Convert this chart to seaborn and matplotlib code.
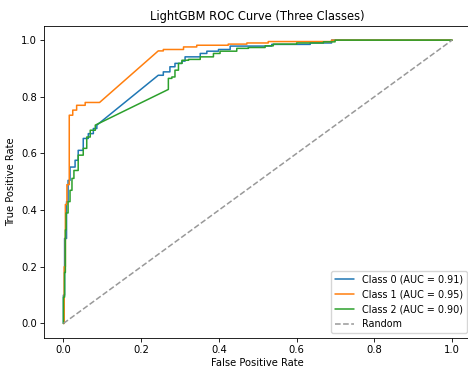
import matplotlib
matplotlib.use('Agg')
import matplotlib.pyplot as plt
import seaborn as sns

# ROC points (fpr, tpr)
fpr_0 = [0.0, 0.0, 0.003, 0.003, 0.008, 0.008, 0.012, 0.012, 0.017, 0.017, 0.030, 0.030,
         0.038, 0.038, 0.051, 0.051, 0.064, 0.064, 0.077, 0.077, 0.086, 0.086,
         0.244, 0.244, 0.257, 0.257, 0.274, 0.274, 0.287, 0.287, 0.305, 0.305,
         0.313, 0.313, 0.352, 0.352, 0.369, 0.369, 0.399, 0.399, 0.429, 0.429,
         0.536, 0.536, 0.635, 0.635, 0.690, 0.690, 1.0]
tpr_0 = [0.0, 0.10, 0.10, 0.30, 0.30, 0.43, 0.43, 0.505, 0.505, 0.552, 0.552, 0.576,
         0.576, 0.611, 0.611, 0.653, 0.653, 0.670, 0.670, 0.688, 0.688, 0.700,
         0.876, 0.876, 0.876, 0.888, 0.888, 0.906, 0.906, 0.918, 0.918, 0.926,
         0.926, 0.941, 0.941, 0.953, 0.953, 0.961, 0.961, 0.967, 0.967, 0.979,
         0.979, 0.985, 0.985, 0.990, 0.990, 1.0, 1.0]

fpr_1 = [0.0, 0.002, 0.002, 0.005, 0.005, 0.009, 0.009, 0.015, 0.015, 0.024, 0.024,
         0.034, 0.034, 0.056, 0.056, 0.093, 0.244, 0.257, 0.257, 0.309, 0.309,
         0.343, 0.343, 0.424, 0.424, 0.472, 0.472, 0.527, 0.527, 0.690, 0.690, 1.0]
tpr_1 = [0.0, 0.0, 0.20, 0.20, 0.42, 0.42, 0.49, 0.49, 0.735, 0.735, 0.753,
         0.753, 0.770, 0.770, 0.780, 0.780, 0.962, 0.962, 0.967, 0.967, 0.976,
         0.976, 0.982, 0.982, 0.986, 0.986, 0.990, 0.990, 0.995, 0.995, 1.0, 1.0]

fpr_2 = [0.0, 0.0, 0.003, 0.003, 0.005, 0.005, 0.007, 0.007, 0.012, 0.012, 0.017, 0.017,
         0.022, 0.022, 0.027, 0.027, 0.038, 0.038, 0.051, 0.051, 0.060, 0.060,
         0.069, 0.069, 0.082, 0.082, 0.270, 0.270, 0.279, 0.279, 0.287, 0.287,
         0.296, 0.296, 0.305, 0.305, 0.322, 0.322, 0.352, 0.352, 0.386, 0.386,
         0.403, 0.403, 0.446, 0.446, 0.476, 0.476, 0.519, 0.519, 0.540, 0.540,
         0.600, 0.600, 0.669, 0.669, 0.699, 0.699, 1.0]
tpr_2 = [0.0, 0.093, 0.093, 0.18, 0.18, 0.33, 0.33, 0.39, 0.39, 0.43, 0.43, 0.47,
         0.47, 0.512, 0.512, 0.54, 0.54, 0.594, 0.594, 0.618, 0.618, 0.658,
         0.658, 0.682, 0.682, 0.700, 0.826, 0.865, 0.865, 0.870, 0.870, 0.894,
         0.894, 0.918, 0.918, 0.929, 0.929, 0.932, 0.932, 0.941, 0.941, 0.953,
         0.953, 0.961, 0.961, 0.971, 0.971, 0.974, 0.974, 0.980, 0.980, 0.986,
         0.986, 0.990, 0.990, 0.994, 0.994, 1.0, 1.0]

labels = ['Class 0 (AUC = 0.91)', 'Class 1 (AUC = 0.95)', 'Class 2 (AUC = 0.90)']
curves = [(fpr_0, tpr_0), (fpr_1, tpr_1), (fpr_2, tpr_2)]
colors = ['#1f77b4', '#ff7f0e', '#2ca02c']

sns.set_style('ticks', rc={'axes.edgecolor': 'black', 'xtick.color': 'black',
                           'ytick.color': 'black', 'text.color': 'black',
                           'axes.labelcolor': 'black'})
plt.rcParams['font.family'] = ['DejaVu Sans']

fig = plt.figure(figsize=(4.68, 3.71), dpi=100)
ax = fig.add_axes([0.094, 0.090, 0.9135, 0.840])

for (fpr, tpr), lab, col in zip(curves, labels, colors):
    sns.lineplot(x=fpr, y=tpr, sort=False, estimator=None, color=col,
                 linewidth=1.1, label=lab, ax=ax)

sns.lineplot(x=[0, 1], y=[0, 1], color='#999999', linestyle='--',
             linewidth=1.1, label='Random', ax=ax)

ax.set_xlabel('False Positive Rate', fontsize=7.2, labelpad=2.5)
ax.set_ylabel('True Positive Rate', fontsize=7.2, labelpad=3.5)
ax.set_title('LightGBM ROC Curve (Three Classes)', fontsize=8.3, pad=4.5)
ax.tick_params(labelsize=7.2, length=2.6, width=0.6, pad=2.5)
for s in ax.spines.values():
    s.set_visible(True)
    s.set_linewidth(0.6)
ax.legend(loc='lower right', fontsize=6.9)

fig.savefig('out.png', dpi=100)
